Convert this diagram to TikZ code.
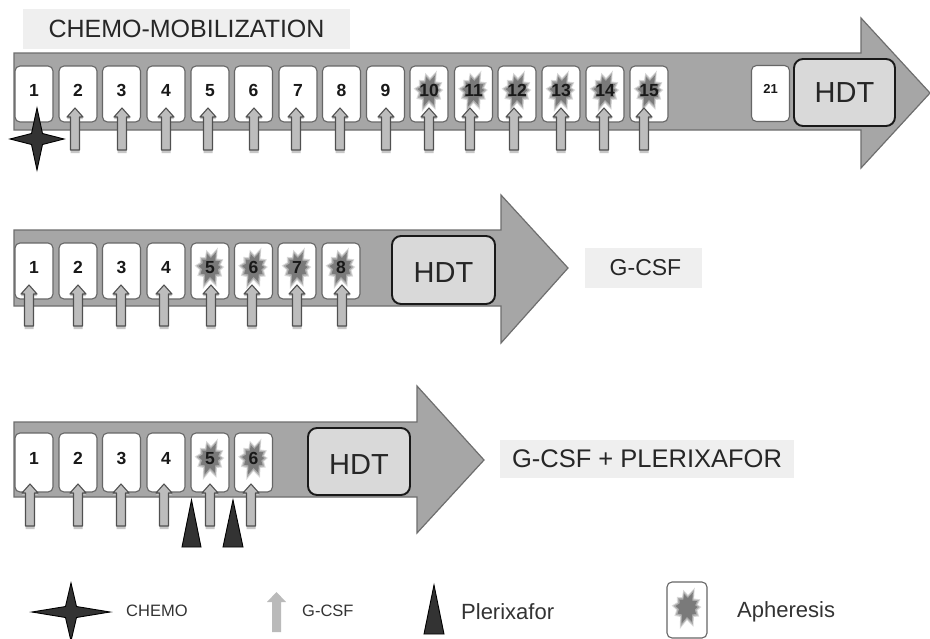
\documentclass[tikz,border=0pt]{standalone}
\usepackage{fontspec}
\setmainfont{Liberation Sans}
\definecolor{band}{HTML}{A6A6A6}
\definecolor{bandedge}{HTML}{6E6E6E}
\definecolor{boxedge}{HTML}{666666}
\definecolor{hdtfill}{HTML}{D9D9D9}
\definecolor{labelfill}{HTML}{EFEFEF}
\definecolor{gfill}{HTML}{BDBDBD}
\definecolor{gedge}{HTML}{505050}
\tikzset{
  daybox/.style={draw=boxedge,line width=1.1pt,fill=white,rounded corners=5pt,inner sep=0pt,outer sep=0pt,minimum width=38pt,minimum height=#1},
  daybox/.default=56pt,
  daynum/.style={font=\bfseries\fontsize{17.5}{17.5}\selectfont,text=black!90,inner sep=0pt,text height=12.5pt,text depth=0pt},
  hdtbox/.style={draw=black!90,line width=1.9pt,fill=hdtfill,rounded corners=9pt,inner sep=0pt,outer sep=0pt,font=\fontsize{29}{29}\selectfont,text=black!85},
  tag/.style={fill=labelfill,inner sep=0pt,outer sep=0pt,text=black!85},
  legendtext/.style={inner sep=0pt,anchor=west,text=black!80},
  bigarrow/.style={fill=band,draw=bandedge,line width=1.2pt,line join=miter},
  gshadow/.style={fill=black!22,draw=none},
  gcsf/.style={fill=gfill,draw=gedge,line width=1.1pt,line join=round},
  chemostar/.style={fill=black!80,draw=black,line width=.9pt,line join=miter},
  plerix/.style={fill=black!80,draw=black,line width=.9pt,line join=miter},
}
% G-CSF arrow: x, tip y, bottom y
\newcommand\gshape[3]{(#1-4.5,#3) -- (#1-4.5,#2+9) -- (#1-8,#2+9) -- (#1,#2) -- (#1+8,#2+9) -- (#1+4.5,#2+9) -- (#1+4.5,#3) -- cycle}
\newcommand\garrow[3]{%
  \fill[gshadow] \gshape{#1}{#2+2}{#3+3};
  \draw[gcsf] \gshape{#1}{#2}{#3};}
% four-pointed star: x, y, half width, half height
\newcommand\fourstar[4]{\draw[chemostar] (#1-#3,#2) -- (#1-5.5,#2-5.5) -- (#1,#2-#4) -- (#1+5.5,#2-5.5) -- (#1+#3,#2) -- (#1+5.5,#2+5.5) -- (#1,#2+#4) -- (#1-5.5,#2+5.5) -- cycle;}
% apheresis burst
\newcommand\burstpath{(0:13) -- (18:10) -- (38:14) -- (55:11) -- (72:19) -- (90:12) -- (108:21) -- (125:11) -- (145:14) -- (165:10) -- (185:14) -- (205:10) -- (225:13) -- (243:10) -- (258:16) -- (275:11) -- (292:19) -- (310:10) -- (330:14) -- (348:10) -- cycle}
\newcommand\burst[2]{%
  \begin{scope}[shift={(#1,#2)}]
    \fill[black!15,scale=1.1] \burstpath;
    \fill[black!32,scale=.98] \burstpath;
    \fill[black!52,scale=.82] \burstpath;
  \end{scope}}
\begin{document}
\begin{tikzpicture}[x=1pt,y=-1pt]
\useasboundingbox (0,0) rectangle (930,638);
\fill[white] (0,0) rectangle (930,638);

% ---------- row 1
\node[tag,minimum width=327pt,minimum height=40pt,font=\fontsize{25}{25}\selectfont] (titleA) at (186.5,29) {CHEMO-MOBILIZATION};
\draw[bigarrow] (14,53) -- (861,53) -- (861,18) -- (930,93) -- (861,168) -- (861,130) -- (14,130) -- cycle;
\foreach \n/\c in {1/34,2/78,3/121.5,4/166,5/210,6/253.5,7/298,8/341.5,9/385.5,10/429,11/473.5,12/517,13/561,14/605,15/649}{
  \node[daybox] (a\n) at (\c,94) {};
  \ifnum\n>9 \burst{\c}{90}\fi
  \node[daynum] (na\n) at (\c,90) {\n};
}
\node[daybox] (a21) at (770.5,93.5) {};
\node[daynum,font=\bfseries\fontsize{13}{13}\selectfont,text height=9.5pt] (na21) at (770.5,89) {21};
\node[hdtbox,minimum width=101pt,minimum height=67pt] (hdtA) at (844.5,92.5) {HDT};
\foreach \g in {75,122,166,208,254,296,340,386,429,470,514,561,604,644}{\garrow{\g}{108}{150}}
\fourstar{37}{139}{27}{31}

% ---------- row 2
\draw[bigarrow] (14,230) -- (501,230) -- (501,195) -- (568,268) -- (501,343) -- (501,306) -- (14,306) -- cycle;
\foreach \n/\c in {1/34,2/78,3/121.5,4/166,5/210,6/253.5,7/297,8/341}{
  \node[daybox] (b\n) at (\c,271) {};
  \ifnum\n>4 \burst{\c}{267}\fi
  \node[daynum] (nb\n) at (\c,267) {\n};
}
\node[hdtbox,minimum width=103pt,minimum height=68pt,text height=25pt] (hdtB) at (443.5,270) {HDT};
\foreach \g in {29,78,121,164,211,252,297,342}{\garrow{\g}{285}{326}}
\node[tag,minimum width=117pt,minimum height=40pt] (titleB) at (643.5,268) {};
\node[inner sep=0pt,font=\fontsize{23}{23}\selectfont,text=black!85] (titleBtext) at (645.5,268) {G-CSF};

% ---------- row 3
\draw[bigarrow] (14,422) -- (417,422) -- (417,386) -- (484,460) -- (417,533) -- (417,497) -- (14,497) -- cycle;
\foreach \n/\c in {1/34,2/78,3/121.5,4/166,5/210,6/253.5}{
  \node[daybox=59pt] (c\n) at (\c,462.5) {};
  \ifnum\n>4 \burst{\c}{458}\fi
  \node[daynum] (nc\n) at (\c,458) {\n};
}
\node[hdtbox,minimum width=102pt,minimum height=67pt,text height=25pt] (hdtC) at (359,461.5) {HDT};
\foreach \g in {30,78,121,164,210,251}{\garrow{\g}{484}{526}}
\draw[plerix] (191.5,500) -- (201,547) -- (182,547) -- cycle;
\draw[plerix] (233,500) -- (243,547) -- (223,547) -- cycle;
\node[tag,minimum width=294pt,minimum height=38pt,font=\fontsize{25.5}{25.5}\selectfont] (titleC) at (647,459) {G-CSF + PLERIXAFOR};

% ---------- legend
\fourstar{71}{612}{39}{29}
\node[legendtext,font=\fontsize{16.5}{16.5}\selectfont] (lgChemo) at (126,611) {CHEMO};
\fill[black!27] (272,632) -- (272,602) -- (267,602) -- (276.5,592) -- (286,602) -- (281,602) -- (281,632) -- cycle;
\node[legendtext,font=\fontsize{16.5}{16.5}\selectfont] (lgG) at (302,611) {G-CSF};
\draw[plerix] (434,585) -- (444,634) -- (424,634) -- cycle;
\node[legendtext,font=\fontsize{22}{22}\selectfont] (lgP) at (461,612) {Plerixafor};
\node[draw=boxedge,line width=1.1pt,fill=white,rounded corners=5pt,inner sep=0pt,outer sep=0pt,minimum width=40pt,minimum height=56pt] (lgBox) at (687,610) {};
\burst{687}{607}
\node[legendtext,font=\fontsize{22}{22}\selectfont] (lgA) at (737,612) {Apheresis};
\end{tikzpicture}
\end{document}
